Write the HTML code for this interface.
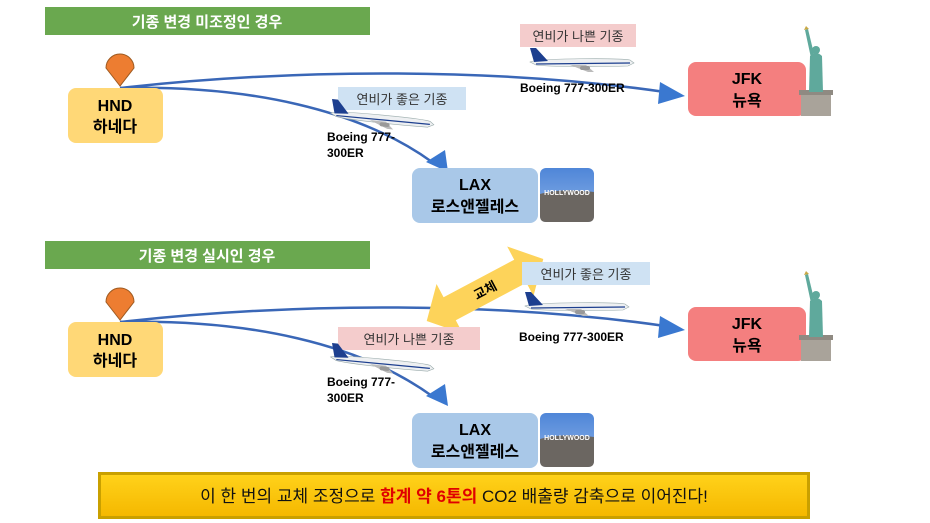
<!DOCTYPE html>
<html><head><meta charset="utf-8"><style>
body{margin:0;background:#fff}
svg{display:block}
text{font-family:"Liberation Sans","Noto Sans CJK KR",sans-serif}
</style></head><body>
<svg width="930" height="523" viewBox="0 0 930 523" xmlns="http://www.w3.org/2000/svg">
<defs>
<linearGradient id="gold" x1="0" y1="0" x2="0" y2="1"><stop offset="0" stop-color="#ffd21a"/><stop offset="1" stop-color="#f5b800"/></linearGradient>
<linearGradient id="sky" x1="0" y1="0" x2="0" y2="1"><stop offset="0" stop-color="#4f86d8"/><stop offset="1" stop-color="#8fb4e8"/></linearGradient>
<g id="plane">
<path d="M0,14 C10,10 90,10 100,12 L104,15 L98,18 C70,19 20,19 6,17 Z" fill="#eef0f2" stroke="#9aa" stroke-width="0.6"/>
<path d="M4,14 L0,0 L6,0 L18,13 Z" fill="#1d3f8f"/>
<path d="M6,16 L100,15" stroke="#1d3f8f" stroke-width="1.2"/>
<path d="M40,17 L58,24 L64,24 L56,17 Z" fill="#bbb"/>
<rect x="50" y="18" width="10" height="4" rx="2" fill="#999"/>
</g>
<g id="statue">
<rect x="2" y="68" width="30" height="22" fill="#a9a39a"/>
<rect x="0" y="64" width="34" height="5" fill="#8f8a82"/>
<path d="M10,66 L11,30 Q17,24 23,30 L24,66 Z" fill="#5fa99c"/>
<path d="M12,32 L6,4 L9,3 L15,28 Z" fill="#5fa99c"/>
<circle cx="17" cy="24" r="4" fill="#5fa99c"/>
<path d="M5,4 L7,0 L10,3 Z" fill="#c9a845"/>
</g>
<g id="holly">
<rect x="0" y="0" width="54" height="54" rx="6" fill="url(#sky)"/>
<path d="M0,26 Q20,20 54,24 L54,48 Q54,54 48,54 L6,54 Q0,54 0,48 Z" fill="#6b6661"/>
<text x="27" y="27" font-size="7" font-weight="bold" fill="#fff" text-anchor="middle" font-family="Liberation Sans">HOLLYWOOD</text>
</g>
</defs>

<!-- Section 1 -->
<rect x="45" y="7" width="325" height="28" fill="#6aa84f"/>
<text x="207" y="27" font-size="15" font-weight="bold" fill="#fff" text-anchor="middle">기종 변경 미조정인 경우</text>

<path d="M120,88 C300,68 500,68 665,92" fill="none" stroke="#3a67b7" stroke-width="2.5"/>
<polygon points="685,96 660,82 658,104" fill="#3a78d0"/>
<path d="M120,88 C250,85 360,110 432,162" fill="none" stroke="#3a67b7" stroke-width="2.5"/>
<polygon points="448,172 445,150 426,162" fill="#3a78d0"/>

<path d="M120,86 L106,68 A14,14 0 1 1 134,68 Z" fill="#ed7d31" stroke="#9e5a20" stroke-width="1"/>
<rect x="68" y="88" width="95" height="55" rx="8" fill="#ffd877"/>
<text x="115" y="111" font-size="16" font-weight="bold" text-anchor="middle">HND</text>
<text x="115" y="132" font-size="16" font-weight="bold" text-anchor="middle">하네다</text>

<rect x="412" y="168" width="126" height="55" rx="8" fill="#a9c8e8"/>
<text x="475" y="190" font-size="16" font-weight="bold" text-anchor="middle">LAX</text>
<text x="475" y="212" font-size="16" font-weight="bold" text-anchor="middle">로스앤젤레스</text>
<use href="#holly" x="540" y="168"/>

<rect x="688" y="62" width="118" height="54" rx="8" fill="#f47f7f"/>
<text x="747" y="84" font-size="16" font-weight="bold" text-anchor="middle">JFK</text>
<text x="747" y="106" font-size="16" font-weight="bold" text-anchor="middle">뉴욕</text>
<use href="#statue" x="799" y="26"/>

<rect x="520" y="24" width="116" height="23" fill="#f4cccc"/>
<text x="578" y="41" font-size="13" fill="#333" text-anchor="middle">연비가 나쁜 기종</text>
<use href="#plane" x="530" y="48"/>
<text x="520" y="92" font-size="12" font-weight="bold">Boeing 777-300ER</text>

<rect x="338" y="87" width="128" height="23" fill="#cfe2f3"/>
<text x="402" y="104" font-size="13" fill="#333" text-anchor="middle">연비가 좋은 기종</text>
<use href="#plane" x="332" y="99" transform="rotate(6 332 99)"/>
<text x="327" y="141" font-size="12" font-weight="bold">Boeing 777-</text>
<text x="327" y="157" font-size="12" font-weight="bold">300ER</text>

<!-- Section 2 -->
<rect x="45" y="241" width="325" height="28" fill="#6aa84f"/>
<text x="207" y="261" font-size="15" font-weight="bold" fill="#fff" text-anchor="middle">기종 변경 실시인 경우</text>

<path d="M120,322 C300,302 500,302 665,326" fill="none" stroke="#3a67b7" stroke-width="2.5"/>
<polygon points="685,330 660,316 658,338" fill="#3a78d0"/>
<path d="M120,322 C250,319 360,344 432,396" fill="none" stroke="#3a67b7" stroke-width="2.5"/>
<polygon points="448,406 445,384 426,396" fill="#3a78d0"/>

<!-- swap arrow -->
<g transform="translate(485,290) rotate(-28)">
<polygon points="-66,0 -40,-28 -40,-13 40,-13 40,-28 66,0 40,28 40,13 -40,13 -40,28" fill="#fdd35a"/>
<text x="0" y="5" font-size="13" font-weight="bold" text-anchor="middle">교체</text>
</g>

<path d="M120,320 L106,302 A14,14 0 1 1 134,302 Z" fill="#ed7d31" stroke="#9e5a20" stroke-width="1"/>
<rect x="68" y="322" width="95" height="55" rx="8" fill="#ffd877"/>
<text x="115" y="345" font-size="16" font-weight="bold" text-anchor="middle">HND</text>
<text x="115" y="366" font-size="16" font-weight="bold" text-anchor="middle">하네다</text>

<rect x="412" y="413" width="126" height="55" rx="8" fill="#a9c8e8"/>
<text x="475" y="435" font-size="16" font-weight="bold" text-anchor="middle">LAX</text>
<text x="475" y="457" font-size="16" font-weight="bold" text-anchor="middle">로스앤젤레스</text>
<use href="#holly" x="540" y="413"/>

<rect x="688" y="307" width="118" height="54" rx="8" fill="#f47f7f"/>
<text x="747" y="329" font-size="16" font-weight="bold" text-anchor="middle">JFK</text>
<text x="747" y="351" font-size="16" font-weight="bold" text-anchor="middle">뉴욕</text>
<use href="#statue" x="799" y="271"/>

<rect x="522" y="262" width="128" height="23" fill="#cfe2f3"/>
<text x="586" y="279" font-size="13" fill="#333" text-anchor="middle">연비가 좋은 기종</text>
<use href="#plane" x="525" y="292"/>
<text x="519" y="341" font-size="12" font-weight="bold">Boeing 777-300ER</text>

<rect x="338" y="327" width="142" height="23" fill="#f4cccc"/>
<text x="409" y="344" font-size="13" fill="#333" text-anchor="middle">연비가 나쁜 기종</text>
<use href="#plane" x="332" y="343" transform="rotate(6 332 343)"/>
<text x="327" y="386" font-size="12" font-weight="bold">Boeing 777-</text>
<text x="327" y="402" font-size="12" font-weight="bold">300ER</text>

<!-- bottom banner -->
<rect x="98" y="472" width="712" height="47" fill="#c9a000"/>
<rect x="101" y="475" width="706" height="41" fill="url(#gold)"/>
<text x="454" y="502" font-size="17" text-anchor="middle" fill="#111">이 한 번의 교체 조정으로 <tspan fill="#e00000" font-weight="bold">합계 약 6톤의</tspan> CO2 배출량 감축으로 이어진다!</text>
</svg>
</body></html>
